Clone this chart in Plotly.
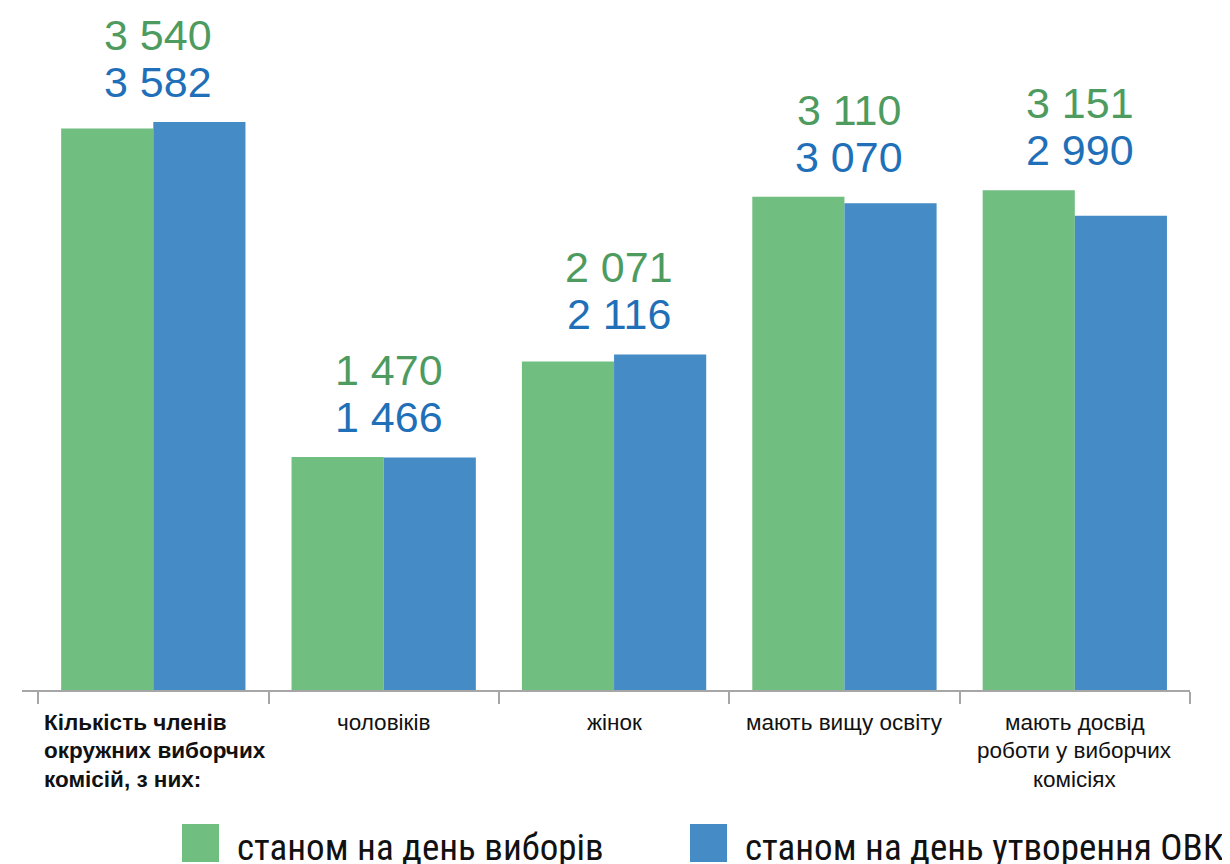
import plotly.graph_objects as go

categories = [["Кількість членів", "окружних виборчих", "комісій, з них:"],
              ["чоловіків"], ["жінок"], ["мають вищу освіту"],
              ["мають досвід", "роботи у виборчих", "комісіях"]]
series_names = ["станом на день виборів", "станом на день утворення ОВК"]
election_day = [3540, 1470, 2071, 3110, 3151]
formation_day = [3582, 1466, 2116, 3070, 2990]

bar_colors = ["#70BE80", "#458BC6"]
text_colors = ["#4E9B60", "#1F70B8"]
narrow = "Liberation Sans Narrow, Arial Narrow, Roboto Condensed, DejaVu Sans Condensed, sans-serif"
sans = "Liberation Sans, Arial, sans-serif"

# page is rendered with an 8px body margin; layout below is in figure pixels
W, H = 1230, 864
ML, MR, MT, MB = 14, 48, 2, 182
pw, ph = W - ML - MR, H - MT - MB

idx = list(range(len(categories)))
fig = go.Figure()
for vals, name, col in [(election_day, series_names[0], bar_colors[0]),
                        (formation_day, series_names[1], bar_colors[1])]:
    fig.add_trace(go.Bar(x=idx, y=vals, name=name, marker=dict(color=col, line=dict(width=0)),
                         showlegend=False))

def fmt(v):
    return f"{v:,}".replace(",", " ")

anns = []
for i in idx:
    top = max(election_day[i], formation_day[i])
    anns.append(dict(x=i, y=top, xref="x", yref="y", text=fmt(formation_day[i]),
                     showarrow=False, yanchor="middle", yshift=40, xshift=5,
                     font=dict(size=43, color=text_colors[1], family=sans)))
    anns.append(dict(x=i, y=top, xref="x", yref="y", text=fmt(election_day[i]),
                     showarrow=False, yanchor="middle", yshift=87, xshift=5,
                     font=dict(size=43, color=text_colors[0], family=sans)))
    for k, line in enumerate(categories[i]):
        a = dict(x=i, y=0, xref="x", yref="paper", showarrow=False,
                 yanchor="middle", yshift=-32 - 28.5 * k,
                 font=dict(size=22.5, color="#111111", family=sans))
        if i == 0:
            a.update(text="<b>" + line + "</b>", xanchor="left", xshift=-111)
        else:
            a.update(text=line, xanchor="center")
        anns.append(a)

fig.update_layout(
    width=W, height=H,
    margin=dict(l=ML, r=MR, t=MT, b=MB),
    paper_bgcolor="white", plot_bgcolor="white",
    barmode="group", bargap=0.2, bargroupgap=0,
    xaxis=dict(range=[-0.57, 4.5], showticklabels=False, showgrid=False, zeroline=False,
               showline=True, linecolor="#A6A6A6", linewidth=1.5,
               ticks="outside", ticklen=12, tickcolor="#A6A6A6", tickwidth=1.5,
               tickmode="array", tickvals=[-0.5, 0.5, 1.5, 2.5, 3.5, 4.5]),
    yaxis=dict(range=[0, 4288], visible=False),
    annotations=anns,
)

def px(xp):
    return (xp - ML) / pw
def py(yp):
    return (H - MB - yp) / ph

# custom legend (figure pixel positions)
legend_items = [(174, 227, series_names[0], bar_colors[0]), (682, 735, series_names[1], bar_colors[1])]
for sx, tx, name, col in legend_items:
    fig.add_shape(type="rect", xref="paper", yref="paper", x0=px(sx), x1=px(sx + 37),
                  y0=py(854), y1=py(816), fillcolor=col, line=dict(width=0))
    fig.add_annotation(x=px(tx), y=py(839), xref="paper", yref="paper", text=name, showarrow=False,
                       xanchor="left", yanchor="middle",
                       font=dict(size=37, color="#111111", family=narrow))

fig.write_html("out.html")
